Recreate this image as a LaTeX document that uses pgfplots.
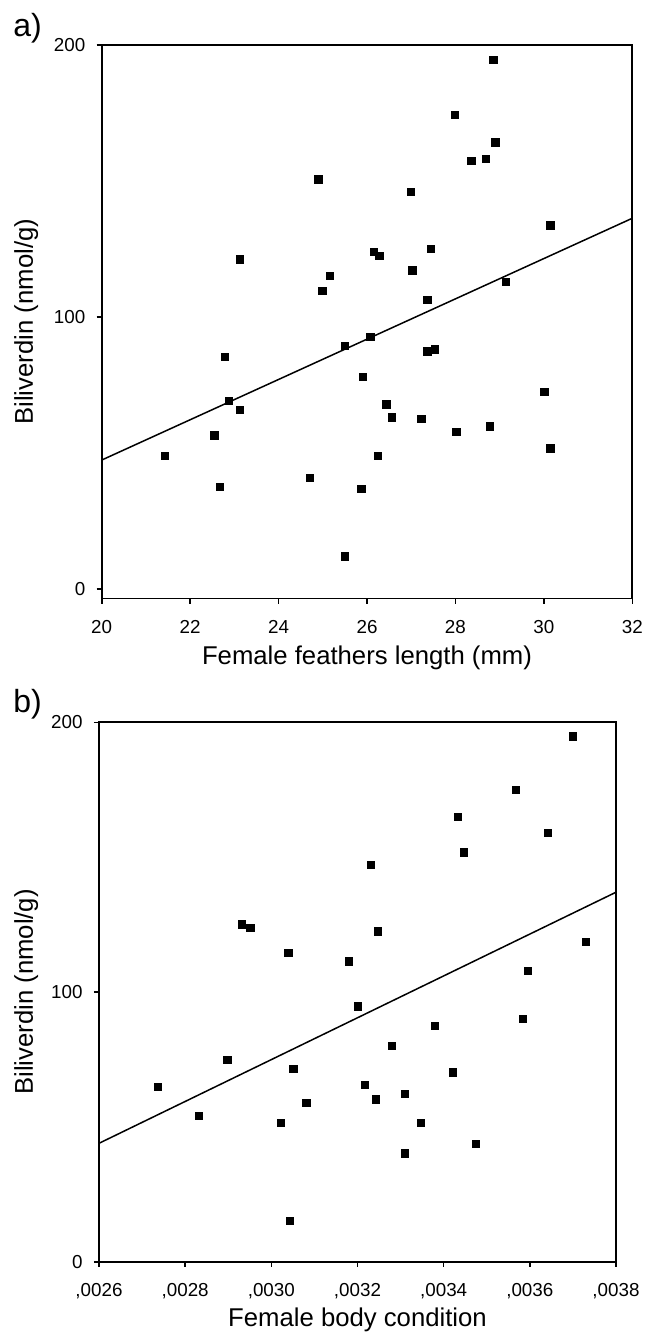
\documentclass[border=0pt]{standalone}
\usepackage{fontspec}
\setmainfont{Liberation Sans}
\usepackage{pgfplots}
\pgfplotsset{compat=1.18}

\pgfplotsset{
  panel/.style={
    scale only axis,
    anchor=north west,
    axis line style={line width=0.9pt},
    tick align=outside,
    tick pos=left,
    major tick style={line width=0.8pt, black},
    major tick length=2.5pt,
    ytick={0,100,200},
    ymax=200,
    tick label style={font=\fontsize{9.4}{11}\selectfont},
    /pgf/number format/assume math mode=true,
    yticklabel style={anchor=east, inner sep=0pt, xshift=-5.5pt},
    xticklabel style={anchor=north, inner sep=0pt, yshift=-8.25pt},
    label style={font=\fontsize{12.85}{15}\selectfont},
    xlabel style={at={(rel axis cs:0.5,0)}, anchor=base, inner sep=0pt},
    ylabel style={anchor=base, inner sep=0pt},
  },
  pts/.style={only marks, mark=square*, mark size=1.85pt, black, mark options={line width=0.2pt}},
  fit/.style={black, line width=0.75pt, no marks},
}

\begin{document}
\begin{tikzpicture}
\path[use as bounding box] (0,0) rectangle (323pt,-666pt);

\node[anchor=base west, inner sep=0pt, font=\fontsize{16}{19}\selectfont] at (6.5pt,-18.3pt) {a)};
\node[anchor=base west, inner sep=0pt, font=\fontsize{16}{19}\selectfont] at (6.5pt,-356.35pt) {b)};

% a) feathers length
\begin{axis}[panel,
    at={(50.85pt,-22.5pt)}, width=265.3pt, height=276.75pt,
    xmin=20, xmax=32, ymin=-3.5,
    xtick={20,22,24,26,28,30,32},
    xlabel={Female feathers length (mm)},
    xlabel style={yshift=-33pt},
    ylabel={Biliverdin (nmol/g)},
    ylabel style={at={([xshift=-34.35pt]rel axis cs:0,0.5)}},
]
\addplot[pts] coordinates {
  (24.90,150.6) (23.12,121.2) (26.15,123.9) (26.28,122.5) (25.15,115.1)
  (24.99,109.6) (28.85,194.5) (27.99,174.3) (28.90,164.2) (28.36,157.5)
  (28.69,158.2) (26.99,146.0) (30.14,133.8) (27.44,125.2) (27.02,117.2)
  (29.14,113.0) (27.36,106.3) (25.50,89.5) (26.07,92.8) (22.78,85.5)
  (25.90,78.0) (22.87,69.3) (23.12,65.9) (26.43,67.9) (26.56,63.2)
  (22.54,56.5) (21.42,49.1) (26.24,49.1) (24.70,40.9) (22.67,37.6)
  (25.87,36.8) (25.49,12.1) (27.36,87.4) (27.53,88.2) (30.01,72.6)
  (27.23,62.6) (28.77,59.9) (28.02,57.8) (30.14,51.8)
};
\addplot[fit] coordinates {(20,47.4) (32,136.3)};
\end{axis}

% b) body condition
\begin{axis}[panel,
    at={(49.5pt,-361.15pt)}, width=258.5pt, height=269.7pt,
    xmin=0.0026, xmax=0.0038, ymin=0,
    scaled x ticks=false,
    xtick={0.0026,0.0028,0.0030,0.0032,0.0034,0.0036,0.0038},
    xticklabels={{,0026},{,0028},{,0030},{,0032},{,0034},{,0036},{,0038}},
    xlabel={Female body condition},
    xlabel style={yshift=-32.5pt},
    ylabel={Biliverdin (nmol/g)},
    ylabel style={at={([xshift=-33pt]rel axis cs:0,0.5)}},
]
\addplot[pts] coordinates {
  (0.003699,194.9) (0.003567,175.0) (0.003433,165.1) (0.003642,159.0)
  (0.003447,151.8) (0.003230,147.1) (0.002931,125.2) (0.002951,123.9)
  (0.003247,122.6) (0.003729,118.7) (0.003039,114.6) (0.003180,111.4)
  (0.003595,108.0) (0.003201,94.7) (0.003583,90.1) (0.003379,87.4)
  (0.003279,80.1) (0.002898,74.9) (0.003051,71.5) (0.003421,70.2)
  (0.003217,65.6) (0.002736,65.0) (0.003309,62.2) (0.003242,60.3)
  (0.003081,58.9) (0.002831,54.2) (0.003022,51.6) (0.003346,51.6)
  (0.003475,43.7) (0.003309,40.3) (0.003043,15.2)
};
\addplot[fit] coordinates {(0.0026,43.9) (0.0038,137.0)};
\end{axis}
\end{tikzpicture}
\end{document}
